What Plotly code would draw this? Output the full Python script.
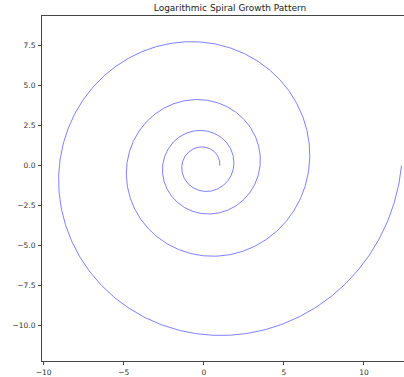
import numpy as np
import plotly.graph_objects as go

# Spiral parameters: r = a * exp(b * theta)
spiral_a = 1.0
spiral_b = 0.1
spiral_turns = 4
n_points = 2000

x_ticks = [-10, -5, 0, 5, 10]
x_tick_labels = ["\u221210", "\u22125", "0", "5", "10"]
y_ticks = [-10.0, -7.5, -5.0, -2.5, 0.0, 2.5, 5.0, 7.5]
y_tick_labels = ["\u221210.0", "\u22127.5", "\u22125.0", "\u22122.5", "0.0", "2.5", "5.0", "7.5"]

theta = np.linspace(0, 2 * np.pi * spiral_turns, n_points)
r = spiral_a * np.exp(spiral_b * theta)
x = r * np.cos(theta)
y = r * np.sin(theta)

fig = go.Figure()
fig.add_trace(go.Scatter(x=x, y=y, mode="lines",
                         line=dict(color="rgba(0,0,255,0.5)", width=1),
                         hoverinfo="skip", showlegend=False))

axis_common = dict(showgrid=False, zeroline=False, showline=True,
                   linecolor="#444444", linewidth=1,
                   ticks="outside", ticklen=3, tickwidth=1, tickcolor="#444444",
                   tickfont=dict(family="DejaVu Sans", size=7.5, color="#333333"))

fig.update_xaxes(range=[-10.1, 12.5], tickvals=x_ticks, ticktext=x_tick_labels,
                 mirror=True, ticklabelstandoff=1, **axis_common)
fig.update_yaxes(range=[-12.2, 9.35], tickvals=y_ticks, ticktext=y_tick_labels,
                 mirror=False, ticklabelstandoff=1, **axis_common)

fig.update_layout(
    width=404, height=377,
    margin=dict(l=42, r=0, t=16, b=16),
    plot_bgcolor="white", paper_bgcolor="white",
    title=dict(text="Logarithmic Spiral Growth Pattern", x=230 / 404, xanchor="center",
               y=1 - 8 / 377, yanchor="middle",
               font=dict(family="DejaVu Sans", size=9, color="#222222")),
)

fig.write_html("out.html", config={"displayModeBar": False},
               post_script="document.body.style.margin='0';document.body.style.padding='0';"
                           "document.body.style.overflow='hidden';")
